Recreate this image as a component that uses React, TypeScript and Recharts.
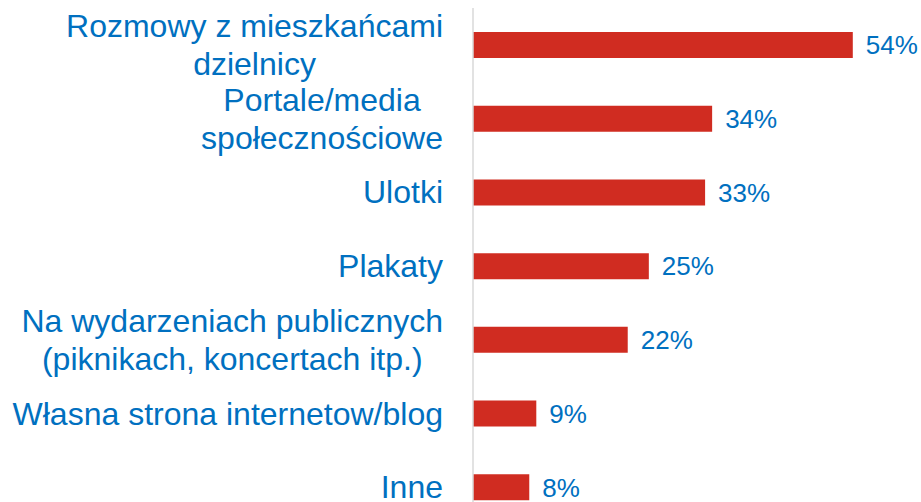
import React from "react";
import { BarChart, Bar, XAxis, YAxis, LabelList } from "recharts";

const categories = [
  "Rozmowy z mieszkańcami\ndzielnicy",
  "Portale/media\nspołecznościowe",
  "Ulotki",
  "Plakaty",
  "Na wydarzeniach publicznych\n(piknikach, koncertach itp.)",
  "Własna strona internetow/blog",
  "Inne",
];
const values = [54, 34, 33, 25, 22, 9, 8];

const data = categories.map((name, i) => ({ name, value: values[i] }));

const FONT = '"Liberation Sans", Arial, sans-serif';
const BLUE = "#0070C0";
const RED = "#D02C21";
const TICK_SIZE = 32;
const LINE_H = 38;

let ctx: CanvasRenderingContext2D | null = null;
const measure = (s: string) => {
  if (!ctx) ctx = document.createElement("canvas").getContext("2d");
  if (!ctx) return s.length * TICK_SIZE * 0.5;
  ctx.font = `${TICK_SIZE}px "Liberation Sans"`;
  return ctx.measureText(s).width;
};

const CategoryTick = (props: any) => {
  const { x, y, payload } = props;
  const lines: string[] = String(payload.value).split("\n");
  const w = Math.max(...lines.map(measure));
  const right = x - 22;
  const cx = right - w / 2;
  return (
    <g>
      {lines.map((ln, i) => (
        <text
          key={i}
          x={cx}
          y={y + (i - (lines.length - 1) / 2) * LINE_H}
          dy="0.35em"
          textAnchor="middle"
          fill={BLUE}
          fontSize={TICK_SIZE}
          fontFamily={FONT}
        >
          {ln}
        </text>
      ))}
    </g>
  );
};

export default function App() {
  return (
    <div
      style={{
        position: "fixed",
        left: 0,
        top: 0,
        width: 921,
        height: 502,
        overflow: "hidden",
        background: "#fff",
      }}
    >
      <BarChart
        width={921}
        height={524}
        data={data}
        layout="vertical"
        margin={{ top: 8, right: 26, bottom: 0, left: 0 }}
      >
        <XAxis type="number" domain={[0, 60]} hide />
        <YAxis
          type="category"
          dataKey="name"
          width={473}
          axisLine={{ stroke: "#D9D9D9", strokeWidth: 1.5 }}
          tickLine={false}
          tick={<CategoryTick />}
          interval={0}
        />
        <Bar dataKey="value" fill={RED} barSize={26} isAnimationActive={false}>
          <LabelList
            dataKey="value"
            position="right"
            offset={13}
            formatter={(v: any) => `${v}%`}
            fill={BLUE}
            fontSize={26}
            fontFamily={FONT}
          />
        </Bar>
      </BarChart>
    </div>
  );
}
